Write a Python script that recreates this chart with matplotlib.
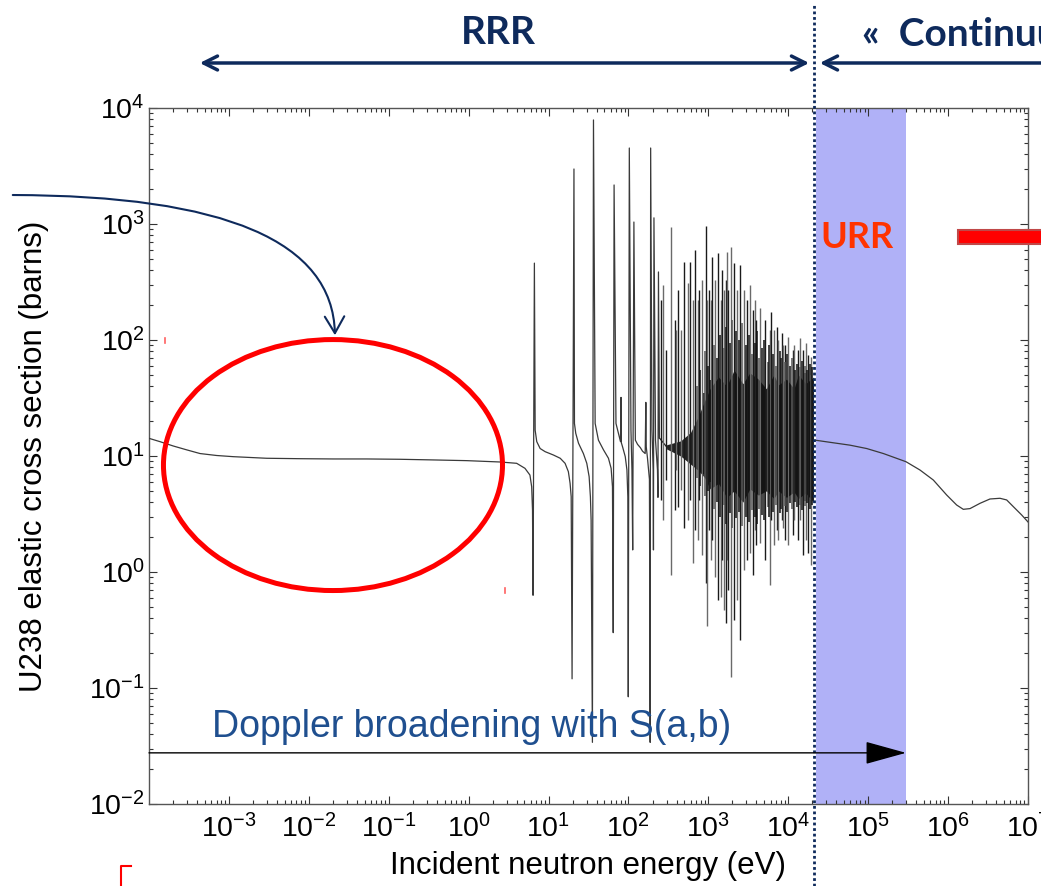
import matplotlib
matplotlib.use("Agg")
import matplotlib.pyplot as plt
from matplotlib.patches import Ellipse, FancyArrowPatch, Rectangle
from matplotlib.lines import Line2D
from matplotlib.ticker import LogLocator, NullFormatter

plt.rcParams['font.family'] = ['Liberation Sans', 'DejaVu Sans']
plt.rcParams['mathtext.default'] = 'regular'

# thermal part + first resolved resonances (energy in eV, cross section in barns)
low_E = [1e-4, 1.37e-4, 2.01e-4, 2.96e-4, 4.35e-4, 7.03e-4, 1.13e-3, 2.97e-3, 7.76e-3,
         2.03e-2, 5.3e-2, 0.138, 0.361, 0.944, 2.47, 3.99, 5.07, 5.85, 6.15, 6.3,
         6.4, 6.65, 6.8, 7.12, 7.85, 9.06, 11.5, 14.0, 16.1, 17.7, 18.6, 19.2,
         19.7, 20.8, 21.1, 21.9, 23.7, 27.3, 30.1, 32.2, 33.4, 34.1,
         35.4, 36.5, 38.3, 42.1, 48.7, 56.2, 60.7, 63.1,
         64.5, 66.1, 69.8, 76.7, 79.5, 80.7, 81.5, 84.4, 91.2, 95.7, 98.2,
         99.5, 102.5, 107.5, 110.6, 113, 117, 122, 130, 141, 150, 162, 165, 167, 173, 183,
         187, 189.6, 197, 204, 205.5, 208.5, 218, 230.7, 234, 237.4, 244]
low_sigma = [14.2, 13.3, 12.2, 11.3, 10.5, 10.1, 9.87, 9.56, 9.48,
             9.43, 9.43, 9.37, 9.25, 9.12, 8.88, 8.65, 7.83, 6.85, 5.43, 3.42,
             0.63, 460, 16.7, 13.3, 11.6, 10.9, 10.2, 9.56, 8.65, 7.33, 5.82, 4.46,
             0.12, 2980, 19.1, 15.7, 12.9, 10.5, 8.65, 6.64, 4.46, 2.8,
             0.034, 7890, 19.1, 13.7, 11.3, 9.56, 7.83, 5.43,
             0.30, 2170, 19.1, 14.7, 13.3, 32, 13.0, 12.0, 9.87, 7.57, 4.46,
             0.084, 4520, 16.7, 7.6, 1.55, 1040, 13.7, 12.6, 11.8, 11.0, 10.5, 29, 12, 9.6, 6.3,
             0.034, 4520, 16.7, 7.6, 1.55, 1130, 13.7, 7.6, 4.4, 386, 14.3]

# dense resonance region: tallest spikes (energy, top, bottom)
dense_E = [259, 274, 299, 336, 377, 399, 422, 460, 502, 562, 596, 650, 689, 751, 773,
           843, 946, 973, 1032, 1093, 1125, 1227, 1337, 1458, 1500, 1589, 1683, 1733,
           1783, 1945, 2120, 2312, 2520, 2829, 3084, 3363, 3666, 3883, 3998, 4487,
           5180, 5984, 6155, 6712, 7318, 7533, 8452, 8696, 9212, 10040, 11590, 11940,
           13400, 14190, 15460, 16870, 17870, 19470]
dense_top = [221, 298, 82, 942, 149, 122, 270, 122, 470, 310, 470, 221, 597, 221, 270,
             329, 961, 221, 270, 221, 520, 329, 562, 221, 401, 270, 329, 574,
             270, 634, 461, 270, 443, 270, 221, 298, 182, 221, 149, 189,
             149, 122, 174, 122, 129, 100, 115, 91, 91, 106, 82, 91,
             82, 104, 82, 94, 74, 71]
dense_bot = [4.2, 2.8, 6.2, 0.94, 3.4, 7.6, 3.6, 5.1, 2.4, 2.8, 4.2, 1.20, 2.3, 1.9, 4.2,
             1.40, 0.80, 0.34, 2.3, 1.27, 1.9, 0.91, 0.57, 0.61, 1.27, 0.47, 0.36, 1.27,
             0.70, 0.124, 0.385, 0.57, 0.26, 1.04, 1.27, 1.46, 0.94, 2.3, 1.71, 1.78,
             1.27, 0.77, 2.8, 1.71, 2.3, 1.9, 2.8, 2.4, 1.9, 1.71, 2.1, 2.8,
             1.9, 2.8, 1.40, 1.9, 1.46, 1.15]

# shorter spikes filling the overlapping region
short_E = [720, 790, 870, 900, 1000, 1060, 1180, 1280, 1400, 1550, 1640,
           1850, 2000, 2200, 2420, 2650, 2950, 3200, 3500, 3780, 4100, 4350,
           4700, 5000, 5500, 5800, 6400, 7000, 7800, 8100, 9000, 9600, 10500,
           11000, 12300, 12800, 13900, 14800, 16000, 16400, 17300, 18500, 19000, 20000]
short_top = [40, 55, 35, 80, 60, 45, 90, 70, 110, 85, 130,
             95, 150, 120, 100, 140, 90, 110, 75, 95, 120, 70,
             85, 100, 65, 90, 75, 60, 80, 70, 65, 75, 60,
             70, 55, 62, 58, 66, 52, 60, 55, 62, 50, 58]
short_bot = [6.5, 5.5, 7, 4.5, 5, 6, 3.5, 4, 3, 3.8, 2.6,
             3.2, 2.4, 2.9, 3.3, 2.5, 3.0, 2.7, 3.4, 3.0, 2.6, 3.5,
             3.1, 2.8, 3.6, 3.0, 3.3, 3.8, 3.2, 3.5, 3.7, 3.3, 3.9,
             3.5, 4.0, 3.6, 3.8, 3.4, 4.1, 3.7, 3.9, 3.5, 4.2, 3.8]

# solid black core of overlapping resonances (ragged edges)
core_E = [300, 450, 600, 751, 900, 1050, 1337, 1700, 2100, 2700, 3300, 4230,
          5300, 6600, 7530, 9500, 11800, 13400, 16500, 20700]
core_hi = [12.5, 13.5, 16, 22, 30, 38, 48, 40, 55, 42, 52, 46,
           38, 50, 41, 46, 38, 50, 42, 48]
core_lo = [11.5, 10, 8.5, 7.5, 6.5, 5.2, 5.8, 4.4, 5.0, 4.0, 5.2, 4.6,
           5.0, 4.3, 5.0, 4.4, 4.9, 4.3, 4.8, 4.0]
mid_E = [244, 300, 500, 1000, 3000, 10000, 20700]
mid_sigma = [14.3, 12.0, 11.0, 10.5, 11.0, 12.5, 13.7]

# unresolved + fast range
fast_E = [2.16e4, 3.66e4, 5.92e4, 9.57e4, 1.55e5, 2.97e5, 4.45e5, 6.53e5, 9.6e5, 1.28e6,
          1.55e6, 1.88e6, 2.51e6, 3.34e6, 4.46e6, 5.41e6, 6.55e6, 8.34e6, 1e7]
fast_sigma = [13.7, 13.0, 12.4, 11.6, 10.5, 8.93, 7.57, 6.21, 4.61, 3.78,
              3.47, 3.52, 3.91, 4.26, 4.32, 4.18, 3.66, 3.10, 2.70]

rrr_end = 2.07e4
urr_band = (2.2e4, 2.97e5)

navy = '#0e2a5c'

fig = plt.figure(figsize=(10.41, 8.86), dpi=100)
ax = fig.add_axes([0.14313, 0.09255, 0.84438, 0.78555])
ax.set_xscale('log')
ax.set_yscale('log')
ax.set_xlim(1e-4, 1e7)
ax.set_ylim(1e-2, 1e4)

ax.axvspan(urr_band[0], urr_band[1], color='#b0b1f7', lw=0, zorder=0)

ax.fill_between(core_E, core_lo, core_hi, color='#0a0a0a', lw=0, alpha=0.9, zorder=2)
ax.plot(mid_E, mid_sigma, color='#222222', lw=0.9, zorder=2)
cols = ['#1a1a1a' if i % 2 == 0 else '#6a6a6a' for i in range(len(dense_E))]
ax.vlines(dense_E, dense_bot, dense_top, colors=cols, lw=1.0, zorder=3)
cols2 = ['#111111' if i % 3 else '#555555' for i in range(len(short_E))]
ax.vlines(short_E, short_bot, short_top, colors=cols2, lw=1.1, zorder=3)
ax.plot(low_E, low_sigma, color='#3a3a3a', lw=0.9, zorder=3)
ax.plot(fast_E, fast_sigma, color='#3a3a3a', lw=0.9, zorder=3)

ax.axvline(rrr_end, ymin=-0.118, ymax=1.148, clip_on=False, color=navy, lw=2,
           linestyle=(0, (1, 1)), zorder=5)

# ticks
ax.set_xticks([10.0 ** k for k in range(-3, 8)])
ax.set_yticks([10.0 ** k for k in range(-2, 5)])
ax.xaxis.set_minor_locator(LogLocator(base=10, subs=range(2, 10), numticks=100))
ax.yaxis.set_minor_locator(LogLocator(base=10, subs=range(2, 10), numticks=100))
ax.xaxis.set_minor_formatter(NullFormatter())
ax.yaxis.set_minor_formatter(NullFormatter())
ax.tick_params(which='both', direction='in', top=True, right=True, color='#333333', width=0.8)
ax.tick_params(which='major', length=6, labelsize=20.5)
ax.tick_params(which='minor', length=3)
ax.tick_params(axis='x', pad=7)
ax.tick_params(axis='y', pad=3)
for s in ax.spines.values():
    s.set_color('#555555')
    s.set_linewidth(1.0)

ax.set_xlabel('Incident neutron energy (eV)', fontsize=22.5)
ax.set_ylabel('U238 elastic cross section (barns)', fontsize=22.5)
ax.xaxis.set_label_coords(0.5, -0.067)
ax.yaxis.set_label_coords(-0.114, 0.5)

# annotations
ax.add_patch(Ellipse((0.2093, 0.487), 0.3857, 0.3606, transform=ax.transAxes,
                     fill=False, edgecolor='#ff0000', lw=3.6, clip_on=False, zorder=6))
ax.annotate('', xy=(urr_band[1], 0.0276), xytext=(1e-4, 0.0276),
            arrowprops=dict(arrowstyle='-|>,head_length=1.3,head_width=0.36',
                            mutation_scale=20, color='black', lw=1.0,
                            shrinkA=0, shrinkB=0), zorder=6)
fig.text(0.2037, 0.1795, 'Doppler broadening with S(a,b)', color='#1f4f8f',
         fontsize=27, va='center', ha='left')

fig.patches.append(FancyArrowPatch((0.0096, 0.7799), (0.3218, 0.6185),
                                   transform=fig.transFigure,
                                   connectionstyle='angle3,angleA=0,angleB=90',
                                   arrowstyle='->,head_length=0.6,head_width=0.35',
                                   mutation_scale=20, color=navy, lw=1.5))

fig.patches.append(FancyArrowPatch((0.1892, 0.9289), (0.7800, 0.9289),
                                   transform=fig.transFigure,
                                   arrowstyle='<->,head_length=0.5,head_width=0.25',
                                   mutation_scale=20, color=navy, lw=2.5))
fig.patches.append(FancyArrowPatch((0.7848, 0.9289), (1.05, 0.9289),
                                   transform=fig.transFigure,
                                   arrowstyle='<-,head_length=0.5,head_width=0.25',
                                   mutation_scale=20, color=navy, lw=2.5))

fig.text(0.4784, 0.9628, 'RRR', color=navy, fontsize=28, fontweight='bold',
         family='Lato', ha='center', va='center')
fig.text(0.828, 0.9605, '«  Continuum »', color=navy, fontsize=28, fontweight='bold',
         family='Lato', ha='left', va='center')
fig.text(0.8232, 0.7314, 'URR', color='#ff3300', fontsize=26, fontweight='bold',
         family='Lato', ha='center', va='center')

fig.patches.append(Rectangle((0.9203, 0.7246), 0.1, 0.0158, transform=fig.transFigure,
                             facecolor='#ff0000', edgecolor='#c04848', lw=1.5))
fig.lines.append(Line2D([0.1162, 0.1162, 0.1258], [0.0, 0.0226, 0.0226],
                        transform=fig.transFigure, color='#ff0000', lw=1.5))
fig.lines.append(Line2D([0.1585, 0.1585], [0.6128, 0.6185], transform=fig.transFigure,
                        color='#ff6060', lw=1.2))
fig.lines.append(Line2D([0.4851, 0.4851], [0.3307, 0.3363], transform=fig.transFigure,
                        color='#ff6060', lw=1.2))

fig.savefig('out.png', dpi=100)
